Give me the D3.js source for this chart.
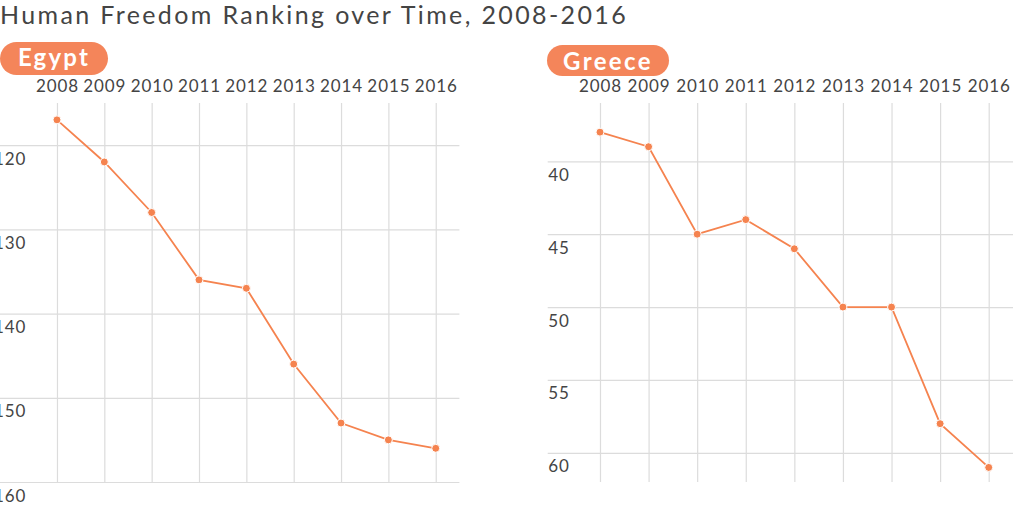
<!DOCTYPE html>
<html>
<head>
<meta charset="utf-8">
<script src="https://cdn.jsdelivr.net/npm/d3@7"></script>
<style>
  html, body { margin: 0; padding: 0; background: #fff; }
  svg { display: block; font-family: Lato, "Open Sans", sans-serif; }
</style>
</head>
<body>
<svg id="chart" width="1024" height="512"></svg>
<script>
const title = "Human Freedom Ranking over Time, 2008-2016";
const years = ["2008","2009","2010","2011","2012","2013","2014","2015","2016"];
const countries = ["Egypt", "Greece"];
const egyptRank = [117, 122, 128, 136, 137, 146, 153, 155, 156];
const greeceRank = [38, 39, 45, 44, 46, 50, 50, 58, 61];
const egyptDomain = [115, 160];
const greeceDomain = [36, 62];
const egyptTicks = [120, 130, 140, 150, 160];
const greeceTicks = [40, 45, 50, 55, 60];

const ORANGE = "#f5834f";
const PILL = "#f4855a";
const GRID = "#dcdcdc";
const TEXT = "#444";

const svg = d3.select("#chart");

// fit a text's width by adjusting letter-spacing
function fitWidth(sel, target) {
  const node = sel.node();
  const n = sel.text().length;
  const len = node.getComputedTextLength();
  sel.style("letter-spacing", ((target - len) / n) + "px");
}

const titleText = svg.append("text")
  .attr("x", 0).attr("y", 24)
  .attr("fill", TEXT)
  .style("font-size", "25px")
  .style("letter-spacing", "0px")
  .text(title);
fitWidth(titleText, 628);

const panels = [
  { name: countries[0], values: egyptRank, domain: egyptDomain, ticks: egyptTicks,
    gridStart: -6.5, x0: 33.3, x1: 459.4, pill: [0, 42, 108, 33], textBase: 66, textW: 72 },
  { name: countries[1], values: greeceRank, domain: greeceDomain, ticks: greeceTicks,
    gridStart: 547.7, x0: 575.7, x1: 1013, pill: [547, 45, 122, 31], textBase: 70, textW: 90 }
];

const plotTop = 103, plotBottom = 482;

panels.forEach(p => {
  const x = d3.scalePoint().domain(years).range([p.x0, p.x1]).padding(0.5);
  const y = d3.scaleLinear().domain(p.domain).range([plotTop, plotBottom]);
  const g = svg.append("g");

  // horizontal grid + y labels
  const ya = g.append("g")
    .attr("transform", `translate(${p.x1},0)`)
    .call(d3.axisLeft(y).tickValues(p.ticks).tickSize(p.x1 - p.gridStart).tickFormat(d3.format("d")));
  ya.select(".domain").remove();
  ya.selectAll("line").attr("stroke", GRID).attr("stroke-width", 1.2);
  ya.selectAll("text")
    .attr("x", -(p.x1 - p.gridStart) + 0.6)
    .attr("dy", null)
    .attr("y", 19)
    .attr("text-anchor", "start")
    .attr("fill", TEXT)
    .style("font-size", "17px")
    .style("letter-spacing", "0.9px")
    .style("font-family", "Lato, sans-serif");

  // vertical grid + x labels
  const xa = g.append("g")
    .attr("transform", `translate(0,${plotTop})`)
    .call(d3.axisTop(x).tickSize(-(plotBottom - plotTop)).tickPadding(11));
  xa.select(".domain").remove();
  xa.selectAll("line").attr("stroke", GRID).attr("stroke-width", 1.2);
  xa.selectAll("text")
    .attr("fill", TEXT)
    .style("font-size", "17px")
    .style("letter-spacing", "0.9px")
    .style("font-family", "Lato, sans-serif");

  // pill label
  const [px, py, pw, ph] = p.pill;
  g.append("rect")
    .attr("x", px).attr("y", py).attr("width", pw).attr("height", ph)
    .attr("rx", ph / 2).attr("ry", ph / 2)
    .attr("fill", PILL);
  const pt = g.append("text")
    .attr("x", px + pw / 2).attr("y", p.textBase)
    .attr("text-anchor", "middle")
    .attr("fill", "#fff")
    .style("font-size", "24px")
    .style("font-weight", "bold")
    .style("letter-spacing", "0px")
    .text(p.name);
  fitWidth(pt, p.textW);

  // line
  const line = d3.line()
    .x((d, i) => x(years[i]))
    .y(d => y(d));
  g.append("path")
    .datum(p.values)
    .attr("d", line)
    .attr("fill", "none")
    .attr("stroke", ORANGE)
    .attr("stroke-width", 1.8);

  g.selectAll("circle.pt")
    .data(p.values)
    .join("circle")
    .attr("class", "pt")
    .attr("cx", (d, i) => x(years[i]))
    .attr("cy", d => y(d))
    .attr("r", 4)
    .attr("fill", ORANGE)
    .attr("stroke", "#fff")
    .attr("stroke-width", 1);
});
</script>
</body>
</html>
